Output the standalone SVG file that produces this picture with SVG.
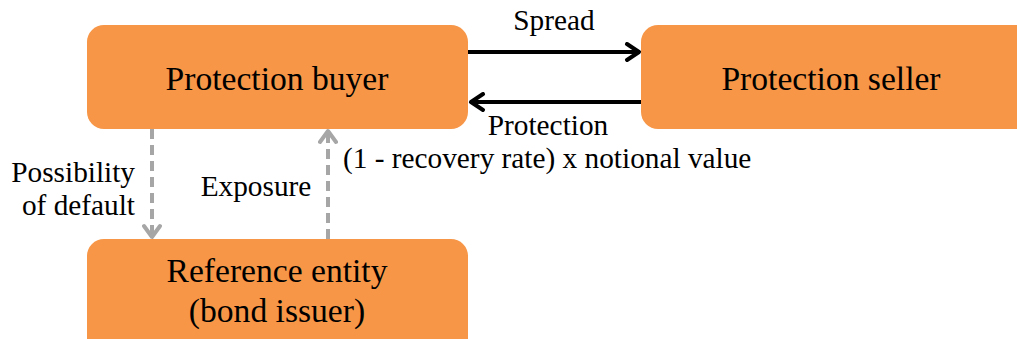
<svg xmlns="http://www.w3.org/2000/svg" width="1017" height="339" viewBox="0 0 1017 339">
<defs>
<style>
.box{fill:#F79646}
.big{font-size:33.6px;fill:#000;text-anchor:middle}
.sm{font-size:29.3px;fill:#000}
.solid{stroke:#000;stroke-width:4;fill:none}
.dash{stroke:#A6A6A6;stroke-width:4;fill:none;stroke-dasharray:10,6}
</style>
<marker id="ab" markerWidth="18" markerHeight="20" viewBox="0 0 18 20" refX="16" refY="10" orient="auto" markerUnits="userSpaceOnUse">
<path d="M3,2 L15,10 L3,18" fill="none" stroke="#000" stroke-width="4" stroke-linecap="round" stroke-linejoin="round"/>
</marker>
<marker id="ag" markerWidth="18" markerHeight="20" viewBox="0 0 18 20" refX="16" refY="10" orient="auto" markerUnits="userSpaceOnUse">
<path d="M4,2 L15,10 L4,18" fill="none" stroke="#A6A6A6" stroke-width="4" stroke-linecap="round" stroke-linejoin="round"/>
</marker>
</defs>
<rect width="1017" height="339" fill="#fff"/>
<g font-family="Liberation Serif, Times New Roman, serif">
<g id="buyer"><rect class="box" x="87" y="25" width="381" height="104" rx="17"/><text class="big" x="277" y="90">Protection buyer</text></g>
<g id="seller"><rect class="box" x="641" y="25" width="396" height="104" rx="17"/><text class="big" x="831" y="90">Protection seller</text></g>
<g id="reference"><rect class="box" x="87" y="239" width="381" height="130" rx="17"/><text class="big" x="277" y="282">Reference entity</text><text class="big" x="277" y="322">(bond issuer)</text></g>
<g id="connectors">
<line class="solid" x1="468" y1="52" x2="640" y2="52" marker-end="url(#ab)"/>
<line class="solid" x1="641" y1="102" x2="470" y2="102" marker-end="url(#ab)"/>
<line class="dash" x1="152" y1="129" x2="152" y2="238" marker-end="url(#ag)"/>
<line class="dash" x1="328" y1="239" x2="328" y2="130" marker-end="url(#ag)"/>
<text class="sm" x="554" y="30" text-anchor="middle">Spread</text>
<text class="sm" x="548" y="135" text-anchor="middle">Protection</text>
<text class="sm" x="343" y="168">(1 - recovery rate) x notional value</text>
<text class="sm" x="135" y="182" text-anchor="end">Possibility</text>
<text class="sm" x="135" y="215" text-anchor="end">of default</text>
<text class="sm" x="256" y="196" text-anchor="middle">Exposure</text>
</g>
</g>
</svg>
